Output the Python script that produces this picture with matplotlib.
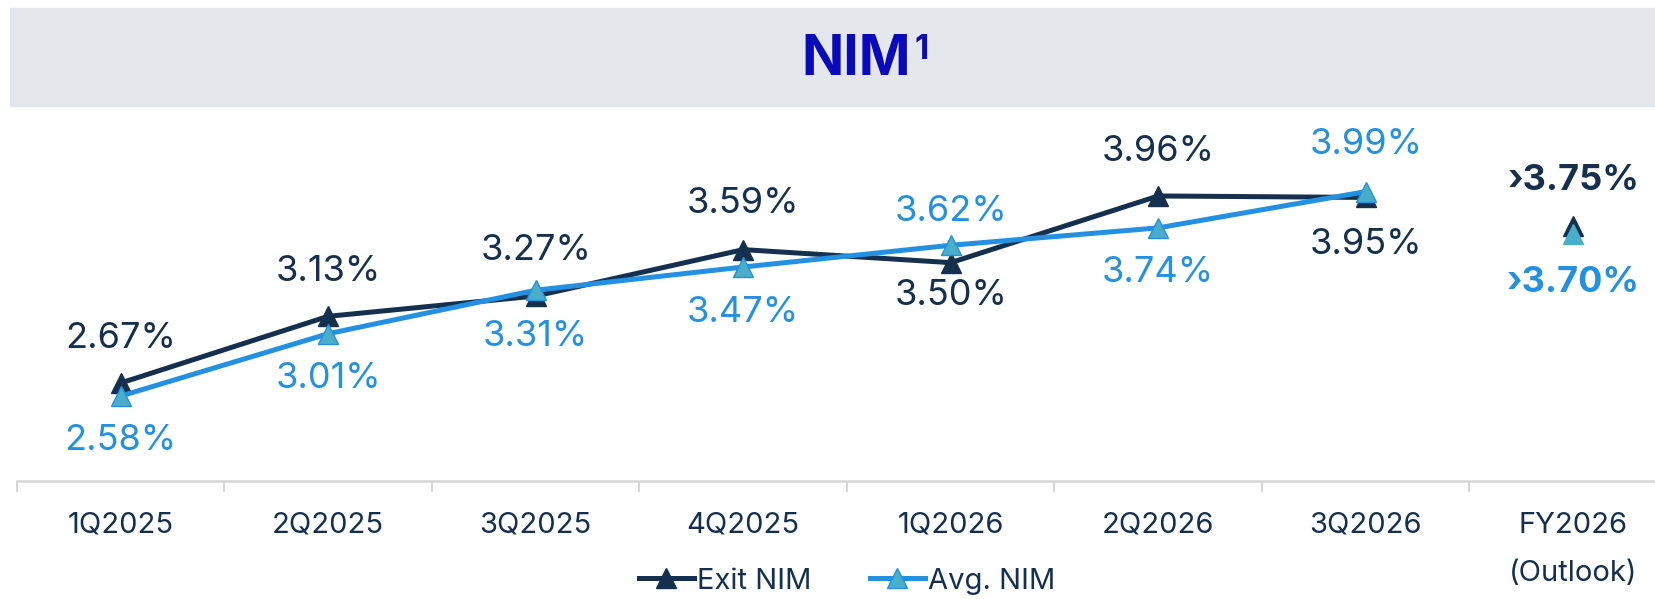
import matplotlib.pyplot as plt
from matplotlib.patches import Rectangle

plt.rcParams['font.family'] = ['Inter', 'DejaVu Sans']

quarters = ['1Q2025', '2Q2025', '3Q2025', '4Q2025', '1Q2026', '2Q2026', '3Q2026', 'FY2026\n(Outlook)']
exit_nim = [2.67, 3.13, 3.27, 3.59, 3.50, 3.96, 3.95]
avg_nim = [2.58, 3.01, 3.31, 3.47, 3.62, 3.74, 3.99]
outlook_exit = 3.75
outlook_avg = 3.70

# label side: 1 above, -1 below
exit_side = [1, 1, 1, 1, -1, 1, -1]
avg_side = [-1, -1, -1, -1, 1, -1, 1]
gap = [32, 32, 33, 33, 24, 32, 34]

dark = '#15304F'
light = '#2390E2'
teal = '#4AAEC8'
grey = '#D6D6D6'

fig = plt.figure(figsize=(16.56, 5.99), dpi=100)
fig.patches.append(Rectangle((10/1656, 1-106/599), 1, 98/599, transform=fig.transFigure,
                             color='#E4E8EC', zorder=0))
fig.text(0.517, 1-60/599, 'NIM', ha='center', va='center', fontsize=40, fontweight='bold', color='#0A0AB8')
fig.text(0.5565, 1-50/599, '1', ha='center', va='center', fontsize=24, fontweight='bold', color='#0A0AB8')

ax = fig.add_axes([17/1656, 1-481/599, 8*207.5/1656, 371/599])
x = list(range(len(exit_nim)))
ax.plot(x, exit_nim, color=dark, lw=3.6, marker='^', ms=14, mfc=dark, mec=dark, label='Exit NIM', zorder=3)
ax.plot(x, avg_nim, color=light, lw=3.6, marker='^', ms=14, mfc=teal, mec=light, mew=1, label='Avg. NIM', zorder=4)
ax.plot([7], [outlook_exit], ls='none', marker='^', ms=14, mfc=dark, mec=dark, zorder=3)
ax.plot([7], [outlook_avg], ls='none', marker='^', ms=14, mfc=teal, mec=teal, zorder=4)

for i, v in enumerate(exit_nim):
    ax.annotate(f'{v:.2f}%', (i, v), xytext=(0, exit_side[i]*gap[i]), textcoords='offset points',
                ha='center', va='center', fontsize=26, color=dark)
for i, v in enumerate(avg_nim):
    ax.annotate(f'{v:.2f}%', (i, v), xytext=(0, avg_side[i]*gap[i]), textcoords='offset points',
                ha='center', va='center', fontsize=26, color=light)
ax.annotate(f'›{outlook_exit:.2f}%', (7, outlook_exit), xytext=(0, 33), textcoords='offset points',
            ha='center', va='center', fontsize=26, fontweight='bold', color=dark)
ax.annotate(f'›{outlook_avg:.2f}%', (7, outlook_avg), xytext=(0, -35), textcoords='offset points',
            ha='center', va='center', fontsize=26, fontweight='bold', color=light)

ax.set_xlim(-0.5, 7.5)
ax.set_ylim(1.994, 4.553)
ax.set_xticks(range(len(quarters)))
ax.set_xticklabels(quarters, fontsize=21, color=dark, linespacing=2.0)
ax.set_xticks([i - 0.5 for i in range(len(quarters) + 1)], minor=True)
ax.tick_params(axis='x', which='major', length=0, pad=22)
ax.tick_params(axis='x', which='minor', length=8, width=1.5, color=grey)
ax.set_yticks([])
for s in ['top', 'right', 'left']:
    ax.spines[s].set_visible(False)
ax.spines['bottom'].set_color(grey)
ax.spines['bottom'].set_linewidth(1.8)
ax.patch.set_alpha(0)

fig.legend(loc='center', bbox_to_anchor=(847/1656, 0.030), ncol=2, frameon=False, fontsize=21,
           handlelength=1.9, handletextpad=0.1, columnspacing=2.0, labelcolor=dark)

fig.savefig('out.png', dpi=100)
